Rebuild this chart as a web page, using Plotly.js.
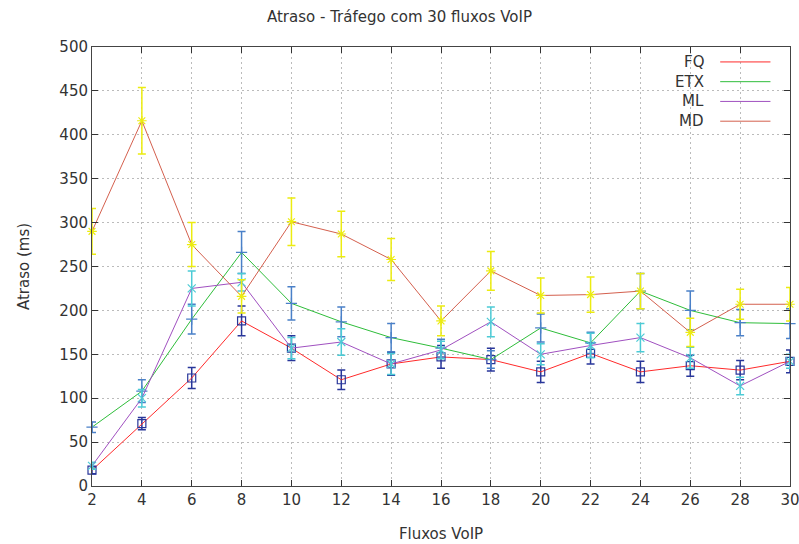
<!DOCTYPE html>
<html>
<head>
<meta charset="utf-8">
<script src="https://cdn.plot.ly/plotly-3.0.1.min.js"></script>
<style>html,body{margin:0;padding:0;background:#fff;}#chart{width:799px;height:544px;}</style>
</head>
<body>
<div id="chart"></div>
<script>
const fluxos = [2, 4, 6, 8, 10, 12, 14, 16, 18, 20, 22, 24, 26, 28, 30];

const fqDelay  = [18, 71, 123, 188, 157, 121, 139, 147, 144, 130, 151, 130, 137, 132, 142];
const fqErr    = [4, 7, 12, 17, 14, 11, 13, 13, 13, 12, 12, 12, 12, 11, 13];

const etxDelay = [67, 108, 190, 266, 208, 187, 169, 157, 144, 180, 163, 222, 200, 186, 185];
const etxErr   = [6, 13, 17, 24, 19, 17, 16, 10, 10, 16, 12, 20, 22, 15, 17];

const mlDelay  = [23, 100, 225, 232, 157, 164, 139, 155, 187, 150, 160, 169, 146, 114, 142];
const mlErr    = [4, 10, 20, 10, 12, 15, 12, 10, 17, 12, 14, 16, 12, 10, 8];

const mdDelay  = [290, 416, 275, 216, 301, 287, 258, 188, 245, 217, 218, 222, 175, 207, 207];
const mdErr    = [26, 38, 25, 19, 27, 26, 24, 17, 22, 20, 20, 20, 16, 17, 19];

const seriesNames = ['FQ', 'ETX', 'ML', 'MD'];
const lineColors  = ['#ff2a2a', '#2ebd3a', '#a050c0', '#d4604e'];
const barColors   = ['#28369a', '#4a80c8', '#4ccbd6', '#ecec10'];
const symbols     = ['square-open', 'cross-thin-open', 'x-thin-open', 'asterisk-open'];

const values = [fqDelay, etxDelay, mlDelay, mdDelay];
const errors = [fqErr, etxErr, mlErr, mdErr];

const font = 'DejaVu Sans, sans-serif';
const textColor = '#333';

const traces = values.map((v, i) => ({
  x: fluxos,
  y: v,
  name: seriesNames[i],
  type: 'scatter',
  mode: 'lines+markers',
  cliponaxis: false,
  line: {color: lineColors[i], width: 1},
  marker: {symbol: symbols[i], size: 8, color: barColors[i], line: {color: barColors[i], width: 1.2}},
  error_y: {type: 'data', array: errors[i], visible: true, color: barColors[i], thickness: 1.5, width: 4},
  showlegend: false,
  hoverinfo: 'x+y'
}));

const legendY = [0.966, 0.921, 0.876, 0.831];
const annotations = seriesNames.map((n, i) => ({
  xref: 'paper', yref: 'paper', x: 0.879, y: legendY[i],
  xanchor: 'right', yanchor: 'middle', text: n, showarrow: false,
  font: {family: font, size: 15, color: textColor}
}));
const shapes = seriesNames.map((n, i) => ({
  type: 'line', xref: 'paper', yref: 'paper',
  x0: 0.9, x1: 0.972, y0: legendY[i], y1: legendY[i],
  line: {color: lineColors[i], width: 1}
}));

const axisCommon = {
  showline: true, mirror: 'ticks', linecolor: '#444', linewidth: 1,
  ticks: 'inside', ticklen: 6, tickcolor: '#333', tickwidth: 1,
  showgrid: true, gridcolor: '#bbbbbb', griddash: '2px,3px', gridwidth: 1,
  zeroline: false, ticklabeloverflow: 'allow',
  tickfont: {family: font, size: 15, color: textColor}
};

const layout = {
  width: 799, height: 544,
  margin: {l: 92, r: 9, t: 47, b: 58},
  paper_bgcolor: '#fff', plot_bgcolor: '#fff',
  title: {text: 'Atraso - Tráfego com 30 fluxos VoIP', x: 0.5, xanchor: 'center', y: 0.97, yanchor: 'middle',
          font: {family: font, size: 15, color: textColor}},
  xaxis: Object.assign({}, axisCommon, {
    range: [1.9999, 30.0001], tickmode: 'array', tickvals: fluxos, ticktext: fluxos.map(String),
    title: {text: 'Fluxos VoIP', font: {family: font, size: 15, color: textColor}, standoff: 20}
  }),
  yaxis: Object.assign({}, axisCommon, {
    range: [0, 500.001], tickmode: 'linear', tick0: 0, dtick: 50,
    title: {text: 'Atraso (ms)', font: {family: font, size: 15, color: textColor}, standoff: 26}
  }),
  annotations: annotations,
  shapes: shapes
};

Plotly.newPlot('chart', traces, layout, {displayModeBar: false, staticPlot: true});
</script>
</body>
</html>
